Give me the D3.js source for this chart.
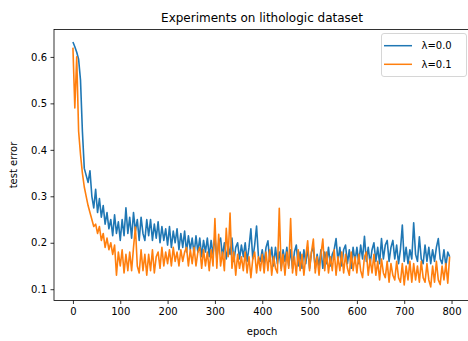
<!DOCTYPE html>
<html>
<head>
<meta charset="utf-8">
<script src="https://cdn.jsdelivr.net/npm/d3@7"></script>
<style>
  body { margin: 0; background: #fff; }
  text { font-family: "DejaVu Sans", sans-serif; fill: #000; }
</style>
</head>
<body>
<div id="chart"></div>
<script>
// Test error, one value every 4 epochs
const lambda00 = [
  0.632, 0.622, 0.61, 0.595, 0.55, 0.44, 0.36, 0.345, 0.33, 0.355,
  0.30, 0.275, 0.315, 0.265, 0.295, 0.255, 0.28, 0.24, 0.265, 0.23,
  0.25, 0.215, 0.26, 0.22, 0.245, 0.205, 0.25, 0.215, 0.275, 0.22,
  0.255, 0.21, 0.265, 0.225, 0.25, 0.205, 0.255, 0.22, 0.205, 0.25,
  0.215, 0.25, 0.205, 0.24, 0.21, 0.245, 0.2, 0.235, 0.205, 0.23,
  0.195, 0.235, 0.19, 0.225, 0.2, 0.23, 0.185, 0.22, 0.19, 0.225,
  0.18, 0.215, 0.185, 0.21, 0.175, 0.215, 0.18, 0.21, 0.17, 0.205,
  0.18, 0.21, 0.17, 0.205, 0.175, 0.215, 0.165, 0.2, 0.21, 0.17,
  0.2, 0.165, 0.195, 0.175, 0.21, 0.16, 0.19, 0.2, 0.165, 0.195,
  0.17, 0.2, 0.16, 0.19, 0.23, 0.165, 0.195, 0.236, 0.17, 0.16,
  0.185, 0.155, 0.19, 0.204, 0.16, 0.19, 0.15, 0.19, 0.155, 0.18,
  0.145, 0.185, 0.16, 0.19, 0.15, 0.185, 0.145, 0.18, 0.195, 0.15,
  0.18, 0.145, 0.185, 0.155, 0.19, 0.145, 0.18, 0.19, 0.145, 0.175,
  0.15, 0.185, 0.145, 0.18, 0.155, 0.19, 0.15, 0.175, 0.185, 0.209,
  0.16, 0.19, 0.15, 0.185, 0.195, 0.155, 0.185, 0.145, 0.19, 0.16,
  0.19, 0.155, 0.195, 0.165, 0.214, 0.16, 0.19, 0.155, 0.185, 0.2,
  0.16, 0.19, 0.155, 0.209, 0.165, 0.195, 0.205, 0.16, 0.19, 0.205,
  0.165, 0.195, 0.155, 0.185, 0.238, 0.16, 0.19, 0.155, 0.185, 0.165,
  0.243, 0.175, 0.16, 0.213, 0.165, 0.155, 0.195, 0.16, 0.19, 0.155,
  0.185, 0.16, 0.19, 0.209, 0.165, 0.155, 0.185, 0.15, 0.18, 0.17
];

const lambda01 = [
  0.62, 0.49, 0.60, 0.44, 0.39, 0.35, 0.32, 0.30, 0.28, 0.265,
  0.25, 0.235, 0.24, 0.22, 0.235, 0.205, 0.22, 0.19, 0.21, 0.185,
  0.2, 0.175, 0.195, 0.13, 0.18, 0.15, 0.185, 0.135, 0.175, 0.14,
  0.18, 0.14, 0.19, 0.234, 0.15, 0.135, 0.185, 0.14, 0.175, 0.13,
  0.175, 0.14, 0.185, 0.135, 0.17, 0.18, 0.145, 0.19, 0.15, 0.18,
  0.155, 0.185, 0.15, 0.19, 0.16, 0.18, 0.15, 0.185, 0.16, 0.18,
  0.19, 0.15, 0.185, 0.155, 0.19, 0.15, 0.18, 0.19, 0.145, 0.185,
  0.15, 0.18, 0.14, 0.185, 0.15, 0.252, 0.145, 0.218, 0.15, 0.18,
  0.14, 0.231, 0.17, 0.264, 0.145, 0.18, 0.13, 0.175, 0.145, 0.17,
  0.14, 0.18, 0.135, 0.17, 0.125, 0.165, 0.18, 0.135, 0.17, 0.14,
  0.175, 0.135, 0.18, 0.14, 0.185, 0.13, 0.17, 0.145, 0.135, 0.274,
  0.14, 0.175, 0.13, 0.18, 0.145, 0.252, 0.135, 0.17, 0.13, 0.185,
  0.14, 0.175, 0.13, 0.17, 0.204, 0.14, 0.18, 0.208, 0.135, 0.17,
  0.13, 0.175, 0.208, 0.14, 0.18, 0.135, 0.17, 0.14, 0.185, 0.13,
  0.17, 0.14, 0.18, 0.135, 0.175, 0.145, 0.13, 0.18, 0.14, 0.17,
  0.135, 0.175, 0.14, 0.125, 0.17, 0.18, 0.13, 0.165, 0.135, 0.175,
  0.13, 0.16, 0.12, 0.165, 0.135, 0.125, 0.16, 0.115, 0.155, 0.13,
  0.12, 0.16, 0.125, 0.115, 0.155, 0.109, 0.15, 0.12, 0.16, 0.115,
  0.155, 0.12, 0.15, 0.115, 0.16, 0.125, 0.115, 0.155, 0.12, 0.105,
  0.15, 0.115, 0.16, 0.12, 0.11, 0.15, 0.12, 0.155, 0.113, 0.17
];

const epochStep = 4;
const xTicks = [0, 100, 200, 300, 400, 500, 600, 700, 800];
const yTicks = [0.1, 0.2, 0.3, 0.4, 0.5, 0.6];
const series = [
  { name: 'λ=0.0', values: lambda00, color: '#1f77b4' },
  { name: 'λ=0.1', values: lambda01, color: '#ff7f0e' }
];

const width = 468, height = 341;
const margin = { top: 29.5, right: -2, bottom: 40.5, left: 54 };

const svg = d3.select('#chart')
  .append('svg')
  .attr('width', width)
  .attr('height', height);

const x = d3.scaleLinear()
  .domain([-40, 839])
  .range([margin.left, width - margin.right]);

const y = d3.scaleLinear()
  .domain([0.0757, 0.659])
  .range([height - margin.bottom, margin.top]);

// Lines
const line = d3.line()
  .x((d, i) => x(i * epochStep))
  .y(d => y(d));

svg.append('defs').append('clipPath').attr('id', 'clip')
  .append('rect')
  .attr('x', margin.left).attr('y', margin.top)
  .attr('width', x.range()[1] - margin.left)
  .attr('height', y.range()[0] - margin.top);

svg.append('g')
  .attr('clip-path', 'url(#clip)')
  .selectAll('path')
  .data(series)
  .enter()
  .append('path')
  .attr('d', d => line(d.values))
  .attr('fill', 'none')
  .attr('stroke', d => d.color)
  .attr('stroke-width', 1.6)
  .attr('stroke-linejoin', 'round');

// Axes
const xAxis = svg.append('g')
  .attr('transform', `translate(0,${y.range()[0]})`)
  .call(d3.axisBottom(x).tickValues(xTicks).tickSize(3.5).tickPadding(3.5).tickFormat(d3.format('d')));

const yAxis = svg.append('g')
  .attr('transform', `translate(${margin.left},0)`)
  .call(d3.axisLeft(y).tickValues(yTicks).tickSize(3.5).tickPadding(3.5).tickFormat(d3.format('.1f')));

[xAxis, yAxis].forEach(g => {
  g.select('.domain').remove();
  g.selectAll('.tick line').attr('stroke', '#000').attr('stroke-width', 0.8);
  g.selectAll('.tick text').attr('font-size', 10).attr('font-family', 'DejaVu Sans').attr('fill', '#000');
});

// Frame
svg.append('rect')
  .attr('x', margin.left)
  .attr('y', margin.top)
  .attr('width', x.range()[1] - margin.left)
  .attr('height', y.range()[0] - margin.top)
  .attr('fill', 'none')
  .attr('stroke', '#000')
  .attr('stroke-width', 0.8);

// Texts
svg.append('text')
  .attr('x', 262)
  .attr('y', 22)
  .attr('text-anchor', 'middle')
  .attr('font-size', 12)
  .text('Experiments on lithologic dataset');

svg.append('text')
  .attr('x', 262)
  .attr('y', 335)
  .attr('text-anchor', 'middle')
  .attr('font-size', 10)
  .text('epoch');

svg.append('text')
  .attr('transform', 'translate(17,165) rotate(-90)')
  .attr('text-anchor', 'middle')
  .attr('font-size', 10)
  .text('test error');

// Legend
const legend = svg.append('g');

legend.append('rect')
  .attr('x', 381.5)
  .attr('y', 33.5)
  .attr('width', 85)
  .attr('height', 43)
  .attr('rx', 2.5)
  .attr('fill', '#fff')
  .attr('fill-opacity', 0.8)
  .attr('stroke', '#ccc')
  .attr('stroke-width', 0.8);

const item = legend.selectAll('.item')
  .data(series)
  .enter()
  .append('g')
  .attr('transform', (d, i) => `translate(384,${45.7 + i * 18.6})`);

item.append('line')
  .attr('x1', 0).attr('x2', 28)
  .attr('stroke', d => d.color)
  .attr('stroke-width', 1.5);

item.append('text')
  .attr('x', 37.5)
  .attr('y', 3.6)
  .attr('font-size', 10)
  .text(d => d.name);
</script>
</body>
</html>
